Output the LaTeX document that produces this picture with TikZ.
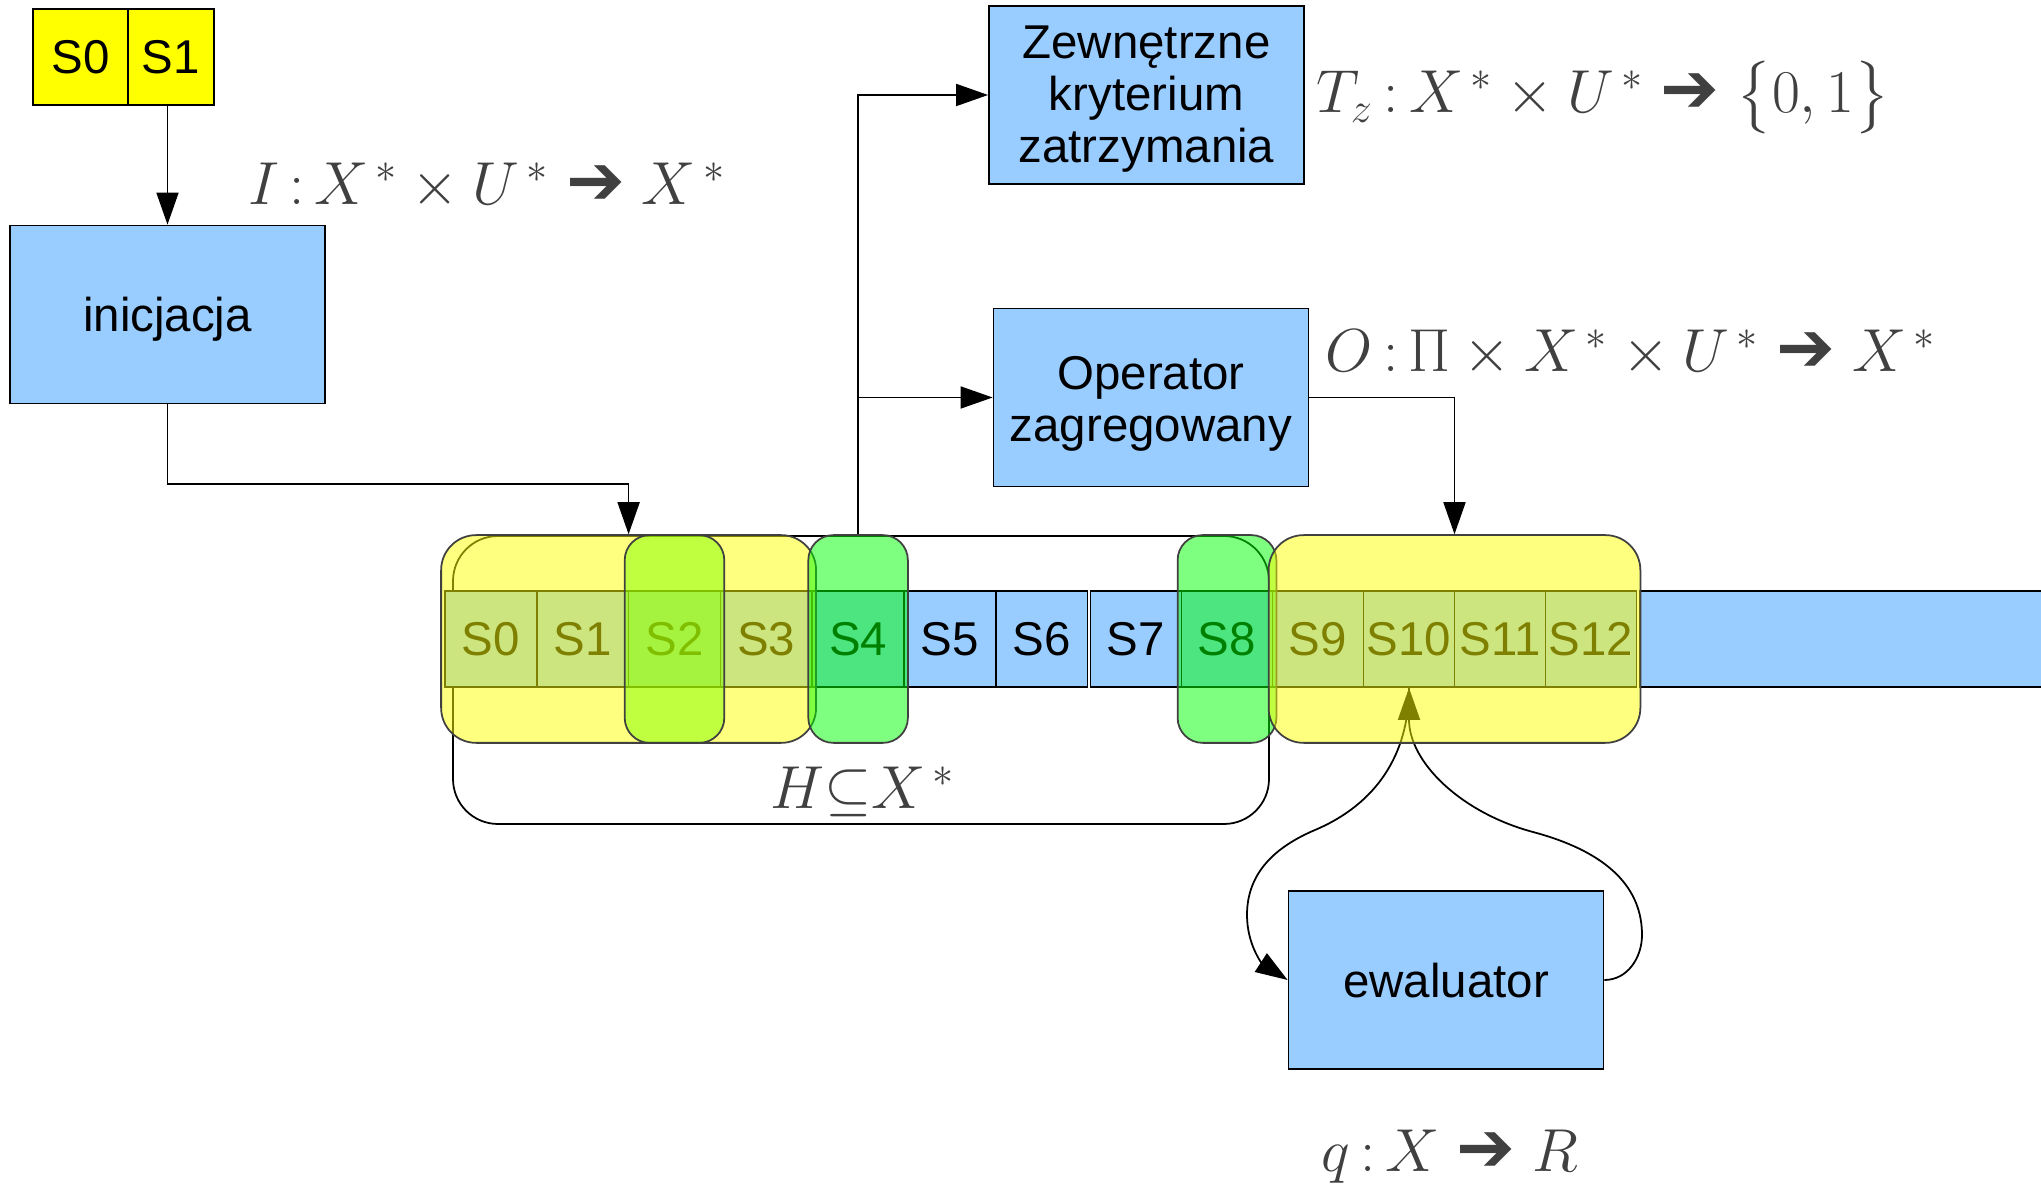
\documentclass[tikz,border=0pt]{standalone}
\usepackage[no-math]{fontspec}
\setmainfont{Liberation Sans}
\newfontfamily\arrowfont{DejaVu Sans}
\usepackage{amsmath}
\usepackage{xcolor}
\usetikzlibrary{calc,
	positioning,
	fit,
	arrows.meta}
\definecolor{boxblue}{HTML}{99CCFF}
\definecolor{lemon}{HTML}{FFFF00}
\definecolor{lawn}{HTML}{80FF00}
\definecolor{leaf}{HTML}{00FF00}
\definecolor{ink}{HTML}{404040}
\newcommand{\boxfont}{\fontsize{13.5}{14.8}\selectfont}
\newcommand{\mapfont}{\fontsize{18}{20}\selectfont}
\newcommand{\harrow}{\mathrel{\text{\arrowfont\fontsize{20}{20}\selectfont ➔}}}
\newcommand{\col}{\,{:}\,}

\begin{document}
\begin{tikzpicture}[x=0.1mm,y=-0.1mm,line width=0.5pt,
	>={Triangle[length=3.2mm,width=2.2mm]},
	every node/.style={inner sep=0pt},
	box/.style={draw,fill=boxblue,minimum width=31.5mm,minimum height=17.8mm,align=center,font=\boxfont,text depth=2.8pt},
	cell/.style={draw,fill=boxblue,minimum height=9.6mm,font=\boxfont},
	seed/.style={draw,fill=lemon,minimum height=9.6mm,font=\boxfont},
	group/.style={draw=black!75,rounded corners=3.5mm,fill opacity=0.5,inner xsep=0.3mm,inner ysep=5.5mm},
	link/.style={->},
	map/.style={text=ink,font=\mapfont,anchor=base}]
	\useasboundingbox (0,0) rectangle (2041,1192);
	\node[draw,rounded corners=4.5mm,minimum width=81.6mm,minimum height=28.8mm] (hist) at (861,680) {};
	\foreach \i in {0,...,6} {
		\pgfmathsetmacro{\cx}{490.9+\i*91.8}
		\node[cell,minimum width=9.18mm] (c\i) at (\cx,639) {S\i};
	}
	\foreach \i in {7,...,12} {
		\pgfmathsetmacro{\cx}{1136+(\i-7)*91}
		\node[cell,minimum width=9.1mm] (c\i) at (\cx,639) {S\i};
	}
	\node[cell,anchor=west,minimum width=45mm] (tail) at (1639,639) {};
	\node[box,text height=12.5pt] (eval) at (1446,980) {ewaluator};
	\coordinate (evR) at (1642,935);
	\coordinate (evM) at (1533,832);
	\coordinate (evL) at (1315,830);
	\coordinate (evW) at (1247,915);
	\draw[link] (eval.east) to[out=0,in=-90] (evR) to[out=90,in=-15] (evM) to[out=165,in=-90] (c10.south);
	\draw[link] (c10.south) to[out=-90,in=23] (evL) to[out=203,in=90] (evW) to[out=-90,in=147] (eval.west);
	\node[group,fill=lemon,fit=(c0)(c3)] (grpA) {};
	\node[group,fill=lawn,rounded corners=2.5mm,fit=(c2)] (grpS2) {};
	\node[group,fill=leaf,rounded corners=2.5mm,fit=(c4)] (grpS4) {};
	\node[group,fill=leaf,rounded corners=2.5mm,fit=(c8)] (grpS8) {};
	\node[group,fill=lemon,fit=(c9)(c12)] (grpB) {};
	\node[seed,minimum width=9.5mm] (s0) at (80.5,57) {S0};
	\node[seed,minimum width=8.6mm] (s1) at (171,57) {S1};
	\node[box,text height=12.5pt] (init) at (167.5,314.5) {inicjacja};
	\node[box,text height=41.4pt] (stop) at (1146.5,95) {Zewnętrzne\\kryterium\\zatrzymania};
	\node[box,text height=28.1pt] (oper) at (1151,397.5) {Operator\\zagregowany};
	\draw[link] (init.north |- s1.south) -- (init.north);
	\draw[link] (init.south) -- ++(0,80) -| (grpA.north);
	\draw[link] (grpS4.north) |- (stop.west);
	\draw[link] (grpS4.north |- oper.west) -- (oper.west);
	\draw[link] (oper.east) -| (grpB.north);
	\node[map] (lblI) at (487,205) {$I\col X^{\,*}\times U^{\,*}\harrow X^{\,*}$};
	\node[map] (lblT) at (1603,113) {$T_z\col X^{\,*}\times U^{\,*}\harrow\bigl\{0,1\bigr\}$};
	\node[map] (lblO) at (1631,372) {$O\col\Pi\times X^{\,*}\times U^{\,*}\harrow X^{\,*}$};
	\node[map] (lblH) at (863,809) {$H{\subseteq}X^{\,*}$};
	\node[map] (lblQ) at (1450,1172) {$q\col X\harrow R$};
\end{tikzpicture}
\end{document}
